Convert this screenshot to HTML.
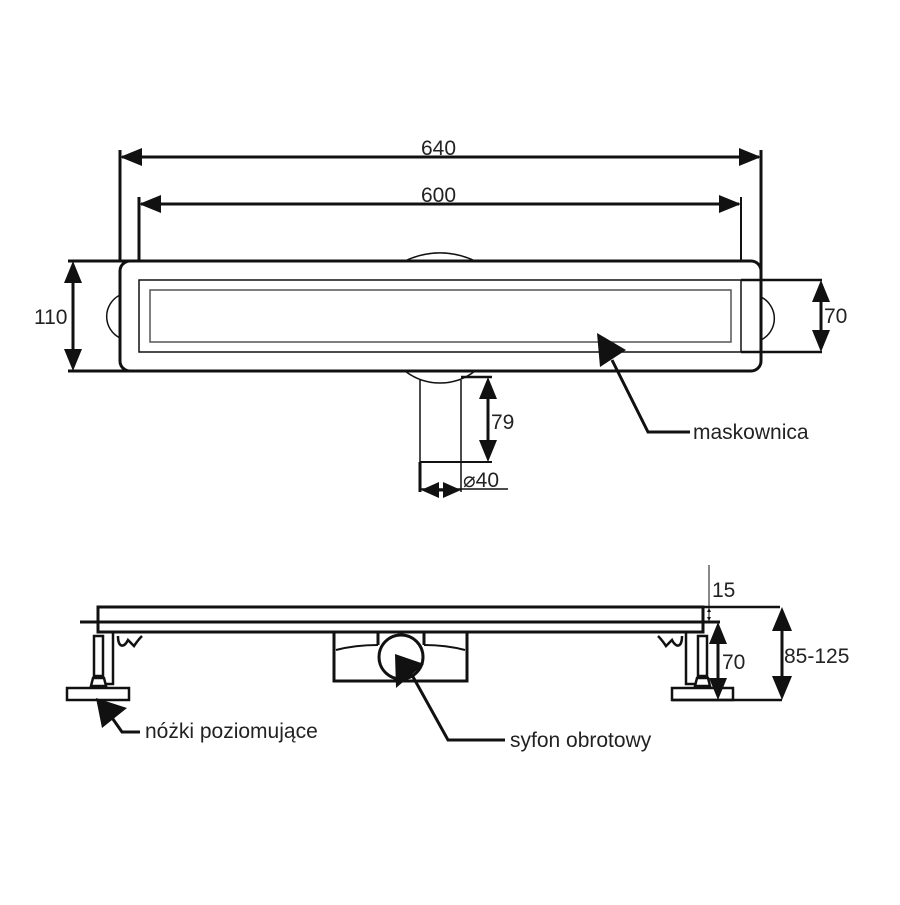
<!DOCTYPE html>
<html><head><style>
body{margin:0;background:#fff}
svg text{font-family:"Liberation Sans",sans-serif;font-size:21px;fill:#222}
</style></head><body>
<svg width="900" height="900" viewBox="0 0 900 900" xmlns="http://www.w3.org/2000/svg">
<g stroke="#111" fill="none">
<!-- top view -->
<line x1="120" y1="150" x2="120" y2="262" stroke-width="3"/>
<line x1="761" y1="150" x2="761" y2="300" stroke-width="3"/>
<line x1="122" y1="157" x2="759" y2="157" stroke-width="3"/>
<path d="M120,157 l22,-9 v18z M761,157 l-22,-9 v18z" fill="#111" stroke="none"/>
<line x1="139" y1="197" x2="139" y2="352" stroke-width="3"/>
<line x1="741" y1="197" x2="741" y2="352" stroke-width="2"/>
<line x1="141" y1="204" x2="739" y2="204" stroke-width="3"/>
<path d="M139,204 l22,-9 v18z M741,204 l-22,-9 v18z" fill="#111" stroke="none"/>
<path d="M405,261 A80,80 0 0 1 475,261" stroke-width="1.5"/>
<path d="M405,371 A57,57 0 0 0 475,371" stroke-width="1.5"/>
<path d="M120,295 A24,24 0 0 0 120,338" stroke-width="1.5"/>
<path d="M761,297 A24,24 0 0 1 761,340" stroke-width="1.5"/>
<rect x="120" y="261" width="641" height="110" rx="10" stroke-width="3" fill="#fff"/>
<line x1="68" y1="261" x2="130" y2="261" stroke-width="3"/>
<line x1="68" y1="371" x2="130" y2="371" stroke-width="3"/>
<rect x="139" y="280" width="602" height="72" stroke-width="1.5"/>
<rect x="150" y="290" width="581" height="52" stroke="#555" stroke-width="1.5"/>
<line x1="741" y1="280" x2="822" y2="280" stroke-width="2.5"/>
<line x1="741" y1="352" x2="822" y2="352" stroke-width="2.5"/>
<line x1="821" y1="285" x2="821" y2="347" stroke-width="3"/>
<path d="M821,280 l-9,22 h18z M821,352 l-9,-22 h18z" fill="#111" stroke="none"/>
<line x1="73" y1="266" x2="73" y2="366" stroke-width="3"/>
<path d="M73,261 l-9,22 h18z M73,371 l-9,-22 h18z" fill="#111" stroke="none"/>
<!-- pipe -->
<line x1="420" y1="380" x2="420" y2="492" stroke-width="1.5"/>
<line x1="461" y1="380" x2="461" y2="492" stroke-width="1.5"/>
<line x1="461" y1="377" x2="492" y2="377" stroke-width="2.5"/>
<line x1="420" y1="462" x2="492" y2="462" stroke-width="2"/>
<line x1="420" y1="462" x2="420" y2="492" stroke-width="3"/>
<line x1="420" y1="489" x2="508" y2="489" stroke-width="1.5"/>
<line x1="488" y1="382" x2="488" y2="457" stroke-width="3"/>
<path d="M488,377 l-9,22 h18z M488,462 l-9,-22 h18z" fill="#111" stroke="none"/>
<line x1="424" y1="490" x2="458" y2="490" stroke-width="3"/>
<path d="M421,490 l18,-8 v16z M461,490 l-18,-8 v16z" fill="#111" stroke="none"/>
<!-- maskownica -->
<path d="M612,360 L648,432 H690" stroke-width="3"/>
<path d="M597,333 L626,350 L600,367z" fill="#111" stroke="none"/>
<!-- side view -->
<rect x="98" y="607" width="605" height="25" stroke-width="3" fill="#fff"/>
<line x1="80" y1="622" x2="720" y2="622" stroke-width="3"/>
<line x1="703" y1="607" x2="780" y2="607" stroke-width="2.5"/>
<line x1="672" y1="700" x2="782" y2="700" stroke-width="2.5"/>
<line x1="782" y1="612" x2="782" y2="695" stroke-width="3"/>
<path d="M782,607 l-10,24 h20z M782,700 l-10,-24 h20z" fill="#111" stroke="none"/>
<line x1="718" y1="627" x2="718" y2="695" stroke-width="3"/>
<path d="M718,622 l-9,22 h18z M718,700 l-9,-22 h18z" fill="#111" stroke="none"/>
<line x1="709" y1="565" x2="709" y2="622" stroke-width="1"/>
<path d="M709,608 l-2,4 h4z M709,621 l-2,-4 h4z" fill="#111" stroke="none"/>
<!-- left foot -->
<rect x="67" y="688" width="62" height="12" stroke-width="2.5"/>
<rect x="94" y="636" width="9" height="40" stroke-width="2.5"/>
<path d="M91,686 L93,678 H104 L106,686z" stroke-width="2.5"/>
<path d="M113,632 V684 H106" stroke-width="2.5"/>
<path d="M118,636 C118,648 124,648 128,640 L134,646 C138,640 142,636 142,636" stroke-width="2.5"/>
<!-- right foot -->
<rect x="672" y="688" width="61" height="12" stroke-width="2.5"/>
<rect x="698" y="636" width="9" height="40" stroke-width="2.5"/>
<path d="M695,686 L697,678 H708 L710,686z" stroke-width="2.5"/>
<path d="M686,632 V684 H695" stroke-width="2.5"/>
<path d="M682,636 C682,648 676,648 672,640 L666,646 C662,640 658,636 658,636" stroke-width="2.5"/>
<!-- syphon -->
<path d="M334,632 V681 H467 V632 M334,632 H378 V645 M467,632 H424 V645" stroke-width="3"/>
<path d="M336,650 Q355,645 378,645 M465,650 Q446,645 424,645" stroke-width="2"/>
<circle cx="401" cy="657" r="22" stroke-width="3" fill="#fff"/>
<path d="M412,675 L448,740 H505" stroke-width="3"/>
<path d="M395,654 L424,664 L396,688z" fill="#111" stroke="none"/>
<!-- left label -->
<path d="M108,712 L122,732 H140" stroke-width="3"/>
<path d="M96,698 L127,708 L102,728z" fill="#111" stroke="none"/>
</g>
<text x="421" y="155">640</text>
<text x="421" y="202">600</text>
<text x="34" y="324">110</text>
<text x="824" y="323">70</text>
<text x="491" y="429">79</text>
<text x="463" y="487">⌀40</text>
<text x="693" y="439">maskownica</text>
<text x="712" y="597">15</text>
<text x="722" y="669">70</text>
<text x="784" y="663">85-125</text>
<text x="145" y="738">nóżki poziomujące</text>
<text x="510" y="747">syfon obrotowy</text>
</svg>
</body></html>
